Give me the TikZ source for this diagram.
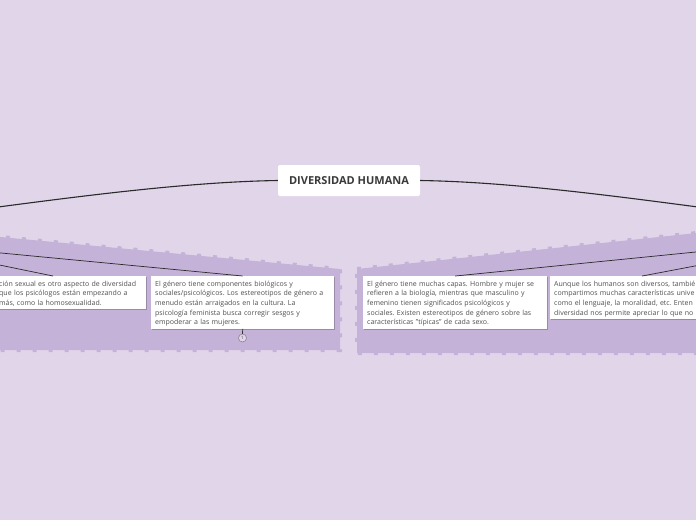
\documentclass[tikz,border=0pt]{standalone}
\usepackage{fontspec}
\setmainfont{Open Sans}
\usetikzlibrary{shadows}
\frenchspacing
\definecolor{bg}{HTML}{E1D5EA}
\definecolor{panel}{HTML}{C5B2D8}
\definecolor{txt}{HTML}{505050}
\definecolor{ttl}{HTML}{3A3A3A}
\definecolor{ln}{HTML}{2A2A2A}
\newcommand\mytopst{\rule{0pt}{10pt}}
\newcommand\mybotst{\rule[-4pt]{0pt}{4pt}}
\tikzset{
  panelshape/.style={fill=panel, draw=panel, line width=4pt, dash pattern=on 4pt off 12pt},
  box/.style={fill=white, anchor=north west, inner xsep=4pt, inner ysep=0pt, align=left,
    text=txt, font=\fontsize{7}{9.6}\selectfont,
    drop shadow={shadow xshift=1pt, shadow yshift=-1pt, fill=black, opacity=0.22}},
  titlebox/.style={fill=white, rounded corners=2pt, minimum width=142pt, minimum height=31pt,
    text=ttl, font=\fontsize{11}{13}\selectfont\bfseries},
  rootconn/.style={draw=ln, line width=1.1pt},
  conn/.style={draw=ln, line width=0.7pt},
  badge/.style={circle, draw=ln!60, fill=bg, line width=0.5pt, inner sep=0pt, minimum size=8pt,
    text=txt, font=\fontsize{4.5}{5}\selectfont}
}
\begin{document}
\begin{tikzpicture}[x=1pt,y=-1pt]
\useasboundingbox (0,0) rectangle (696,520);
\fill[bg] (0,0) rectangle (696,520);
\clip (0,0) rectangle (696,520);

% panels
\filldraw[panelshape] (-10,236) -- (340,269) -- (340,350) -- (-10,350) -- cycle;
\filldraw[panelshape] (357,269) -- (706,232) -- (706,353) -- (357,353) -- cycle;

% off-canvas parents
\coordinate (lroot) at (-40,212);
\coordinate (rroot) at (736,212);
\coordinate (lp1) at (-20,251);
\coordinate (lp2) at (-20,261);
\coordinate (rp1) at (716,250);
\coordinate (rp2) at (716,262);
\coordinate (b1top) at (53,276);

% root
\node[titlebox] (root) at (349,180.5) {DIVERSIDAD HUMANA};
\draw[rootconn] (root.west) .. controls (180,182) and (60,199) .. (lroot);
\draw[rootconn] (root.east) .. controls (518,182) and (636,199) .. (rroot);

% boxes
\node[box, text width=143pt] (b1) at (-5,276) {\mytopst ción sexual es otro aspecto de diversidad\\que los psicólogos están empezando a\\más, como la homosexualidad.\mybotst};
\node[box, text width=175pt] (b2) at (151,276) {\mytopst El género tiene componentes biológicos y\\sociales/psicológicos. Los estereotipos de género a\\menudo están arraigados en la cultura. La\\psicología feminista busca corregir sesgos y\\empoderar a las mujeres.\mybotst};
\node[box, text width=176pt] (b3) at (363,276) {\mytopst El género tiene muchas capas. Hombre y mujer se\\refieren a la biología, mientras que masculino y\\femenino tienen significados psicológicos y\\sociales. Existen estereotipos de género sobre las\\características "típicas" de cada sexo.\mybotst};
\node[box, text width=176pt] (b4) at (550,276) {\mytopst Aunque los humanos son diversos, tambié\\compartimos muchas características unive\\como el lenguaje, la moralidad, etc. Enten\\diversidad nos permite apreciar lo que no\mybotst};

% connectors
\draw[conn] (lp1) -- (b2.north);
\draw[conn] (lp2) -- (b1top);
\draw[conn] (rp1) -- (b3.north);
\draw[conn] (rp2) -- (b4.north);

\node[badge] (c1) at (242.5,338) {1};
\draw[conn] (b2.south) -- (c1.north);
\end{tikzpicture}
\end{document}
